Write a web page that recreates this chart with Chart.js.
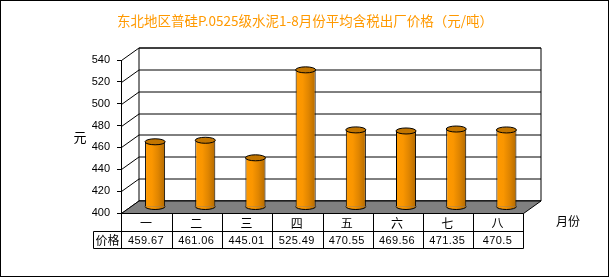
<!DOCTYPE html>
<html>
<head>
<meta charset="utf-8">
<script src="https://cdn.jsdelivr.net/npm/chart.js@4"></script>
<style>
html,body{margin:0;padding:0;background:#fff;}
canvas{display:block;}
</style>
</head>
<body>
<canvas id="c" width="610" height="278"></canvas>
<script>
// ---- data ----
const chartTitle = '东北地区普硅P.0525级水泥1-8月份平均含税出厂价格（元/吨）';
const categories = ['一', '二', '三', '四', '五', '六', '七', '八'];
const prices = [459.67, 461.06, 445.01, 525.49, 470.55, 469.56, 471.35, 470.5];
const yMin = 400, yMax = 540, yStep = 20;
const yAxisTitle = '元';
const xAxisTitle = '月份';
const rowLabel = '价格';

// ---- style constants ----
const WALL_DX = 17.5, WALL_DY = -12.5;   // depth of 3D box
const BAR_DX = 9, BAR_DY = -6;           // bars sit mid-depth
const CJK = '"Noto Sans CJK SC", sans-serif';

function barGradient(c) {
  if (!c || c.type !== 'data') return '#FF9900';
  const chart = c.chart;
  const xs = chart.scales && chart.scales.x;
  if (!xs) return '#FF9900';
  const cx = xs.getPixelForValue(c.dataIndex);
  const hw = xs.width / categories.length * 0.4 / 2;
  if (!isFinite(cx) || !isFinite(hw) || hw <= 0) return '#FF9900';
  const g = chart.ctx.createLinearGradient(cx - hw, 0, cx + hw, 0);
  g.addColorStop(0, '#FF9900');
  g.addColorStop(0.35, '#FA9600');
  g.addColorStop(0.65, '#E08500');
  g.addColorStop(1, '#B36A00');
  return g;
}

const box3d = {
  id: 'box3d',
  beforeDatasetsDraw(chart) {
    const ctx = chart.ctx, ys = chart.scales.y, a = chart.chartArea;
    const L = Math.round(a.left) + 0.5, R = Math.round(a.right) + 0.5;
    const B = Math.round(ys.getPixelForValue(yMin)) + 0.5;
    const T = Math.round(ys.getPixelForValue(yMax)) + 0.5;
    ctx.save();
    ctx.strokeStyle = '#000';
    ctx.lineWidth = 1;
    ctx.fillStyle = '#fff';
    ctx.beginPath();
    ctx.rect(L + WALL_DX, T + WALL_DY, R - L, B - T);
    ctx.fill();
    ctx.stroke();
    for (let v = yMin; v <= yMax; v += yStep) {
      const y = Math.round(ys.getPixelForValue(v)) + 0.5;
      ctx.beginPath();
      ctx.moveTo(L + WALL_DX, y + WALL_DY);
      ctx.lineTo(R + WALL_DX, y + WALL_DY);
      ctx.moveTo(L, y);
      ctx.lineTo(L + WALL_DX, y + WALL_DY);
      ctx.stroke();
    }
    ctx.fillStyle = '#808080';
    ctx.beginPath();
    ctx.moveTo(L, B);
    ctx.lineTo(R, B);
    ctx.lineTo(R + WALL_DX, B + WALL_DY);
    ctx.lineTo(L + WALL_DX, B + WALL_DY);
    ctx.closePath();
    ctx.fill();
    ctx.stroke();
    ctx.restore();
    ctx.save();
    ctx.translate(BAR_DX, BAR_DY);
  },
  afterDatasetsDraw(chart) {
    const ctx = chart.ctx;
    const meta = chart.getDatasetMeta(0);
    meta.data.forEach((bar, i) => {
      const hw = bar.width / 2;
      const ry = 3;
      const grad = barGradient({type: 'data', chart, dataIndex: i});
      ctx.beginPath();
      ctx.ellipse(bar.x, bar.base, hw, ry, 0, 0, Math.PI);
      ctx.fillStyle = grad;
      ctx.fill();
      ctx.strokeStyle = '#000';
      ctx.lineWidth = 1;
      ctx.beginPath();
      ctx.ellipse(bar.x, bar.base, hw, ry, 0, 0, Math.PI);
      ctx.stroke();
      ctx.beginPath();
      ctx.ellipse(bar.x, bar.y, hw, ry, 0, 0, Math.PI * 2);
      ctx.fillStyle = '#C27500';
      ctx.fill();
      ctx.stroke();
    });
    ctx.restore();
  },
  afterDraw(chart) {
    const ctx = chart.ctx, xs = chart.scales.x, a = chart.chartArea;
    const L = Math.round(a.left) + 0.5, R = Math.round(a.right) + 0.5;
    const r0 = Math.round(a.bottom) + 0.5;
    const r1 = r0 + 18, r2 = r1 + 17;
    const labelLeft = L - 28;
    const n = categories.length;
    ctx.save();
    ctx.strokeStyle = '#000';
    ctx.lineWidth = 1;
    ctx.beginPath();
    ctx.moveTo(L, r0); ctx.lineTo(R, r0);
    ctx.moveTo(labelLeft, r1); ctx.lineTo(R, r1);
    ctx.moveTo(labelLeft, r2); ctx.lineTo(R, r2);
    ctx.moveTo(labelLeft, r1); ctx.lineTo(labelLeft, r2);
    for (let i = 0; i <= n; i++) {
      const xx = (i === 0) ? L : (i === n ? R : Math.round(L + (R - L) * i / n) + 0.5);
      ctx.moveTo(xx, r0); ctx.lineTo(xx, r2);
    }
    ctx.stroke();
    ctx.fillStyle = '#000';
    ctx.textAlign = 'center';
    ctx.textBaseline = 'middle';
    ctx.font = '11px "Liberation Sans", Arial, sans-serif';
    if ('letterSpacing' in ctx) ctx.letterSpacing = '0.4px';
    prices.forEach((v, i) => {
      ctx.fillText(String(v), xs.getPixelForValue(i), (r1 + r2) / 2 + 0.5);
    });
    if ('letterSpacing' in ctx) ctx.letterSpacing = '0px';
    ctx.font = '12px ' + CJK;
    ctx.fillText(rowLabel, (labelLeft + L) / 2, (r1 + r2) / 2);
    ctx.font = '13px ' + CJK;
    ctx.fillText(yAxisTitle, 80, 137);
    ctx.font = '12px ' + CJK;
    ctx.fillText(xAxisTitle, 568, 221);
    ctx.strokeRect(0.5, 0.5, 608, 276);
    ctx.restore();
  }
};

new Chart(document.getElementById('c'), {
  type: 'bar',
  data: {
    labels: categories,
    datasets: [{
      data: prices,
      base: yMin,
      backgroundColor: barGradient,
      borderColor: '#000',
      borderWidth: 1,
      barPercentage: 0.4,
      categoryPercentage: 1,
      clip: false
    }]
  },
  options: {
    responsive: false,
    animation: false,
    devicePixelRatio: 1,
    layout: { padding: 0 },
    plugins: {
      legend: { display: false },
      tooltip: { enabled: false },
      title: {
        display: true,
        text: chartTitle,
        color: '#FF9900',
        font: { size: 13.5, family: CJK, weight: 'normal' },
        padding: { top: 13, bottom: 30.8 }
      }
    },
    scales: {
      x: {
        offset: true,
        grid: { display: false, drawTicks: false },
        border: { display: false },
        ticks: { color: '#000', font: { size: 12, family: CJK }, padding: 3, maxRotation: 0 },
        afterFit(s) { s.height = 65; }
      },
      y: {
        min: yMin, max: yMax,
        grid: { drawOnChartArea: false, drawTicks: true, tickLength: 4, color: '#000' },
        border: { display: true, color: '#000' },
        ticks: { stepSize: yStep, color: '#000', padding: 7, font: { size: 11, family: '"Liberation Sans", Arial, sans-serif' } },
        afterFit(s) { s.width = 121; }
      },
      ySpace: {
        position: 'right',
        display: true,
        min: yMin, max: yMax,
        grid: { display: false, drawTicks: false },
        border: { display: false },
        ticks: { display: false },
        afterFit(s) { s.width = 87.5; }
      }
    }
  },
  plugins: [box3d]
});
</script>
</body>
</html>
